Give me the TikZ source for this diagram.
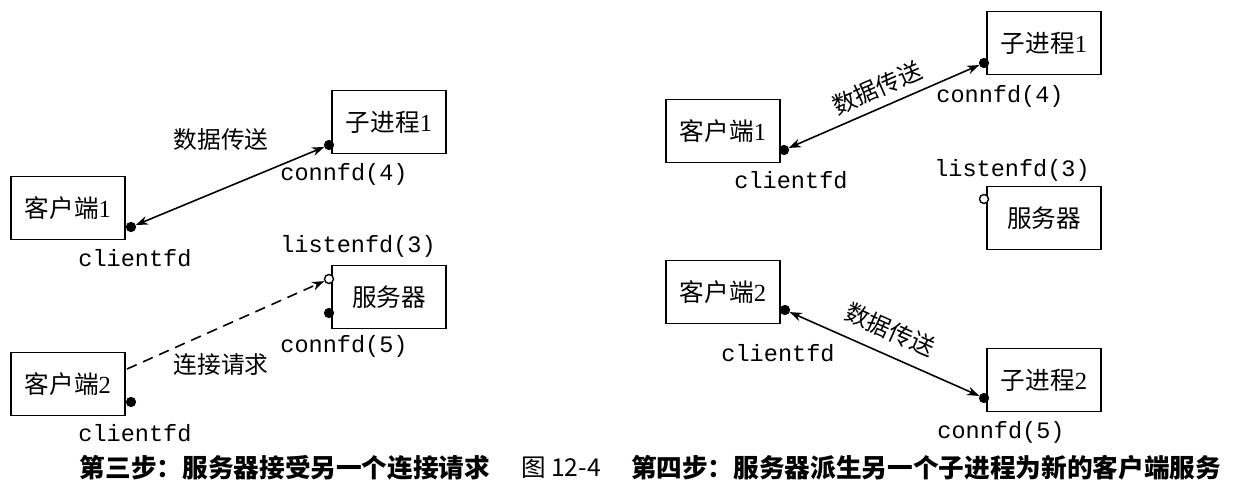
\documentclass[tikz,border=0pt]{standalone}
\usepackage{fontspec}
\setmainfont{Liberation Serif}
\setmonofont{Liberation Mono}
\newfontfamily\cjk{Noto Sans CJK SC}
\usetikzlibrary{arrows.meta}

\begin{document}
\begin{tikzpicture}[x=0.02cm, y=-0.02cm,
    every node/.style={inner sep=0pt},
    proc/.style={draw, line width=1pt, minimum width=2.28cm, minimum height=1.26cm, font=\fontsize{14}{16}\selectfont},
    fdclosed/.style={circle, draw, fill=black, minimum size=0.19cm},
    fdopen/.style={circle, draw, line width=0.8pt, fill=white, minimum size=0.18cm},
    fdlabel/.style={font=\ttfamily\fontsize{13.4}{16}\selectfont},
    msg/.style={font=\cjk\fontsize{13.5}{16}\selectfont},
    link/.style={line width=0.9pt, {Stealth[length=7pt, width=5pt]}-{Stealth[length=7pt, width=5pt]}},
    request/.style={line width=0.9pt, dashed, dash pattern=on 6pt off 4pt, -{Stealth[length=7pt, width=5pt]}},
    caption/.style={font=\cjk\bfseries\fontsize{14.6}{17}\selectfont}
]
\useasboundingbox (0,0) rectangle (1244,490);

% (3)
\node[proc] (cl1) at (68,208) {{\cjk 客户端}1};
\node[proc] (ch1) at (389,122) {{\cjk 子进程}1};
\node[proc] (srv) at (389,297) {\cjk 服务器};
\node[proc] (cl2) at (68,384) {{\cjk 客户端}2};

\node[fdclosed] (cl1fd) at (131,227) {};
\node[fdclosed] (ch1fd) at (329,145) {};
\node[fdopen] (srvlfd) at (329,279) {};
\node[fdclosed] (srvcfd) at (329,313) {};
\node[fdclosed] (cl2fd) at (131,402) {};
\coordinate (cl2req) at (127,369);

\draw[link] (cl1fd) -- (ch1fd);
\draw[request] (cl2req) -- (srvlfd);

\node[msg] at (221,140) {数据传送};
\node[msg] at (221,365) {连接请求};
\node[fdlabel] at (344,174) {connfd(4)};
\node[fdlabel] at (135,258) {clientfd};
\node[fdlabel] at (358,246) {listenfd(3)};
\node[fdlabel] at (344,346) {connfd(5)};
\node[fdlabel] at (135,433) {clientfd};

% (4)
\node[proc] (rcl1) at (723,131) {{\cjk 客户端}1};
\node[proc] (rch1) at (1044,43) {{\cjk 子进程}1};
\node[proc] (rsrv) at (1044,218) {\cjk 服务器};
\node[proc] (rcl2) at (723,292) {{\cjk 客户端}2};
\node[proc] (rch2) at (1044,380) {{\cjk 子进程}2};

\node[fdclosed] (rcl1fd) at (784,150) {};
\node[fdclosed] (rch1fd) at (984,63) {};
\node[fdopen] (rsrvlfd) at (984,199) {};
\node[fdclosed] (rcl2fd) at (785,310) {};
\node[fdclosed] (rch2fd) at (984,398) {};

\draw[link] (rcl1fd) -- (rch1fd);
\draw[link] (rcl2fd) -- (rch2fd);

\node[msg, rotate=23.5] at (877,88) {数据传送};
\node[msg, rotate=-24] at (890,330) {数据传送};
\node[fdlabel] at (1000,96) {connfd(4)};
\node[fdlabel] at (791,180) {clientfd};
\node[fdlabel] at (1012,170) {listenfd(3)};
\node[fdlabel] at (778,353) {clientfd};
\node[fdlabel] at (1001,432) {connfd(5)};

% caption
\node[caption] at (285,468) {第三步：服务器接受另一个连接请求};
\node[font=\cjk\fontsize{14}{17}\selectfont] at (561,468) {图 12-4};
\node[caption] at (926,468) {第四步：服务器派生另一个子进程为新的客户端服务};

\end{tikzpicture}
\end{document}
